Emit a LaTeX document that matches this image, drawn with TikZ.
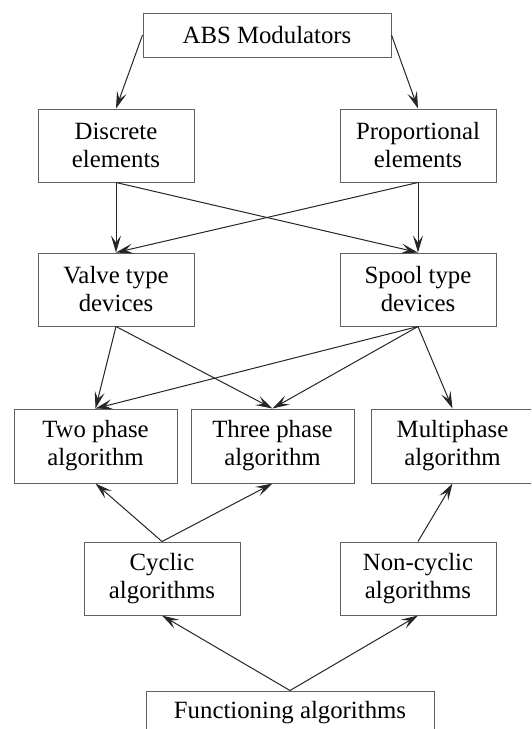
\documentclass[tikz,border=0pt]{standalone}
\usepackage{fontspec}
\setmainfont{Liberation Serif}
\usetikzlibrary{arrows.meta}
\begin{document}
\begin{tikzpicture}[x=1pt,y=-1pt,
  box/.style={draw=black!62, line width=1pt, fill=white, inner sep=0pt, align=center,
    font=\fontsize{24.8}{28}\selectfont},
  bw/.style={box, minimum width=156pt, minimum height=73pt},
  aw/.style={box, minimum width=163pt, minimum height=74pt},
  conn/.style={draw=black!85, line width=1pt, -{Stealth[length=17pt,width=10pt,inset=7pt]}}
]
\useasboundingbox (0,0) rectangle (531,729);
\clip (0,0) rectangle (531,729);
\fill[white] (0,0) rectangle (531,729);
\node[box, minimum width=248pt, minimum height=44pt] (abs) at (267,35) {ABS Modulators};
\node[bw] (disc) at (116,145.5) {Discrete\\elements};
\node[bw] (prop) at (418,145.5) {Proportional\\elements};
\node[bw] (valve) at (116,289.5) {Valve type\\devices};
\node[bw] (spool) at (418,289.5) {Spool type\\devices};
\node[aw] (two) at (95.5,446) {Two phase\\algorithm};
\node[aw] (three) at (272.5,446) {Three phase\\algorithm};
\node[aw] (multi) at (452.5,446) {Multiphase\\algorithm};
\node[bw] (cyc) at (162,578.5) {Cyclic\\algorithms};
\node[bw] (noncyc) at (418,578.5) {Non-cyclic\\algorithms};
\node[box, minimum width=288pt, minimum height=44pt] (func) at (290,713) {Functioning algorithms};
\draw[conn] (abs.west) -- (disc.north);
\draw[conn] (abs.east) -- (prop.north);
\draw[conn] (disc.south) -- (valve.north);
\draw[conn] (disc.south) -- (spool.north);
\draw[conn] (prop.south) -- (valve.north);
\draw[conn] (prop.south) -- (spool.north);
\draw[conn] (valve.south) -- (two.north);
\draw[conn] (valve.south) -- (three.north);
\draw[conn] (spool.south) -- (two.north);
\draw[conn] (spool.south) -- (three.north);
\draw[conn] (spool.south) -- (multi.north);
\draw[conn] (cyc.north) -- (two.south);
\draw[conn] (cyc.north) -- (three.south);
\draw[conn] (noncyc.north) -- (multi.south);
\draw[conn] (func.north) -- (cyc.south);
\draw[conn] (func.north) -- (noncyc.south);
\end{tikzpicture}
\end{document}
